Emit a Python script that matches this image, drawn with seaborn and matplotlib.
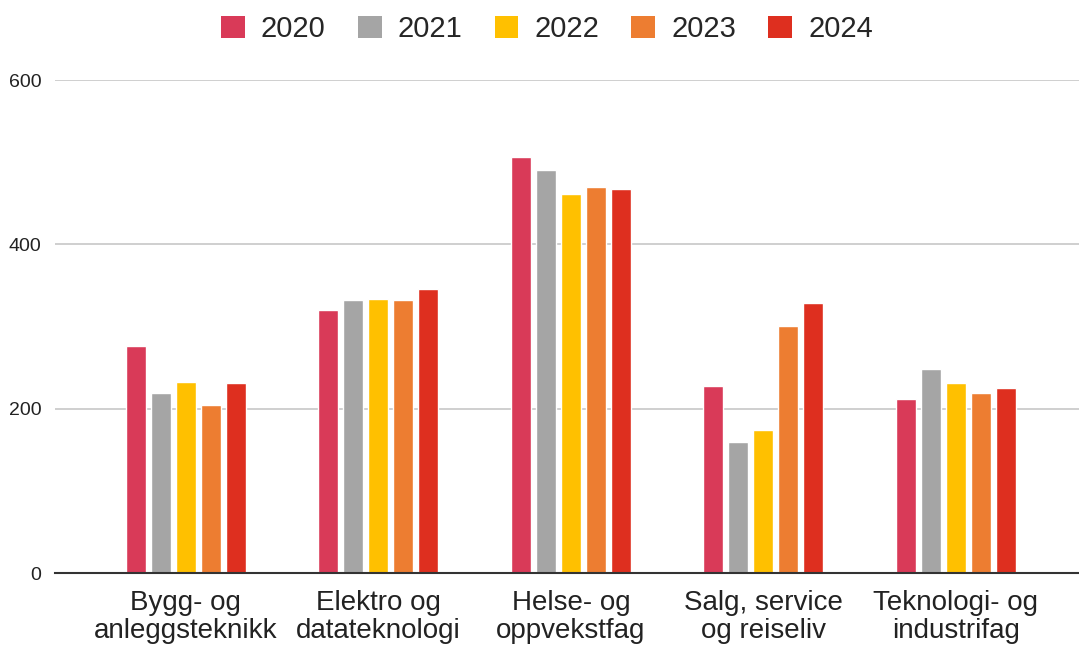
import matplotlib
matplotlib.use("Agg")
import matplotlib.pyplot as plt
import seaborn as sns
import pandas as pd
from matplotlib.patches import Patch

categories = ["Bygg- og\nanleggsteknikk", "Elektro og\ndatateknologi", "Helse- og\noppvekstfag",
              "Salg, service\nog reiseliv", "Teknologi- og\nindustrifag"]
years = ["2020", "2021", "2022", "2023", "2024"]
v2020 = [277, 320, 506, 228, 212]
v2021 = [219, 332, 491, 160, 249]
v2022 = [233, 334, 461, 174, 231]
v2023 = [205, 332, 470, 301, 219]
v2024 = [231, 346, 468, 329, 226]
yticks = [0, 200, 400, 600]
colors = ["#D93A58", "#A5A5A5", "#FFC000", "#ED7D31", "#DE2F1F"]

rows = []
for y, vals in zip(years, [v2020, v2021, v2022, v2023, v2024]):
    for c, v in zip(categories, vals):
        rows.append({"cat": c, "year": y, "value": v})
df = pd.DataFrame(rows)

sns.set_theme(style="white")
plt.rcParams["font.family"] = ["Liberation Sans", "DejaVu Sans"]

fig = plt.figure(figsize=(10.79, 6.49), dpi=100)
ax = fig.add_axes([0.051, 0.1166, 0.949, 0.7601])
sns.barplot(data=df, x="cat", y="value", hue="year", palette=colors, order=categories,
            hue_order=years, width=0.65, gap=0.2, ax=ax, legend=False, saturation=1)

ax.set_xlim(-0.68, 4.64)
ax.set_ylim(0, 600)
ax.set_yticks(yticks)
ax.set_yticklabels([str(t) for t in yticks], fontsize=14, color="#222222")
ax.tick_params(axis="y", length=0, pad=10)
ax.tick_params(axis="x", length=0, pad=12, labelsize=20, labelcolor="#222222")
for lbl in ax.get_xticklabels():
    lbl.set_linespacing(1.12)
ax.set_xlabel("")
ax.set_ylabel("")
ax.grid(axis="y", color="#CCCCCC", linewidth=1.3)
ax.set_axisbelow(True)
for s in ["top", "right", "left"]:
    ax.spines[s].set_visible(False)
ax.spines["bottom"].set_color("#333333")
ax.spines["bottom"].set_linewidth(1.5)

handles = [Patch(facecolor=c, edgecolor="none") for c in colors]
fig.legend(handles, years, loc="center", bbox_to_anchor=(0.507, 0.955), ncol=5, frameon=False,
           fontsize=21, handlelength=0.82, handleheight=0.75, handletextpad=0.55, columnspacing=1.1)

fig.savefig("out.png", dpi=100, facecolor="white")
